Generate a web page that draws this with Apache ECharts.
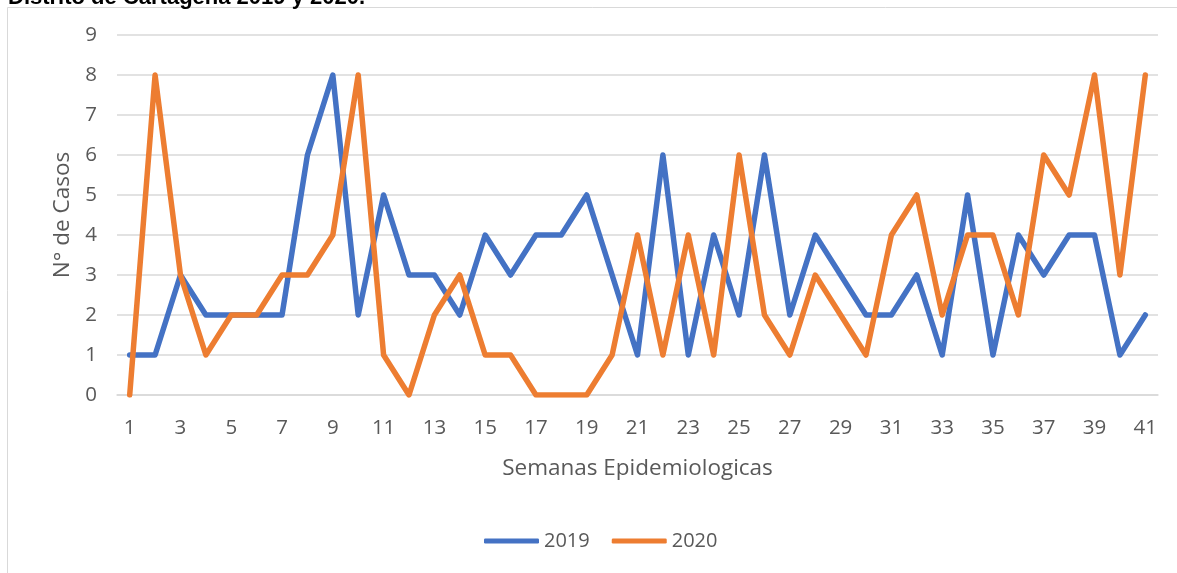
<!DOCTYPE html>
<html>
<head>
<meta charset="utf-8">
<script src="https://cdn.jsdelivr.net/npm/echarts@6/dist/echarts.min.js"></script>
<style>
  html, body { margin: 0; padding: 0; background: #fff; }
  #chart { width: 1177px; height: 573px; }
</style>
</head>
<body>
<div id="chart"></div>
<script>
// semanas epidemiologicas 1..41
const semanas = ['1','2','3','4','5','6','7','8','9','10','11','12','13','14','15','16','17','18','19','20',
  '21','22','23','24','25','26','27','28','29','30','31','32','33','34','35','36','37','38','39','40','41']

const casos2019 = [1, 1, 3, 2, 2, 2, 2, 6, 8, 2, 5, 3, 3, 2, 4, 3, 4, 4, 5, 3,
  1, 6, 1, 4, 2, 6, 2, 4, 3, 2, 2, 3, 1, 5, 1, 4, 3, 4, 4, 1, 2]

const casos2020 = [0, 8, 3, 1, 2, 2, 3, 3, 4, 8, 1, 0, 2, 3, 1, 1, 0, 0, 0, 1,
  4, 1, 4, 1, 6, 2, 1, 3, 2, 1, 4, 5, 2, 4, 4, 2, 6, 5, 8, 3, 8]

const fontFam = '"Open Sans", Lato, sans-serif'
const gris = '#595959'

const chart = echarts.init(document.getElementById('chart'), null, { renderer: 'canvas' })

chart.setOption({
  backgroundColor: '#fff',
  animation: false,
  graphic: [
    {
      type: 'rect',
      shape: { x: 7.5, y: 7.5, width: 1300, height: 700 },
      style: { fill: 'none', stroke: '#d9d9d9', lineWidth: 1 },
      silent: true,
    },
    {
      type: 'text',
      left: 8,
      top: -13,
      style: {
        text: 'Distrito de Cartagena 2019 y 2020.',
        fill: '#000',
        font: 'bold 22px "Liberation Sans", Arial, sans-serif',
      },
    },
  ],
  grid: { left: 117, right: 19, top: 35, bottom: 178 },
  legend: {
    bottom: 17,
    left: 479,
    icon: 'roundRect',
    itemWidth: 55,
    itemHeight: 5,
    itemGap: 22,
    textStyle: { color: gris, fontSize: 20, fontFamily: fontFam },
    data: ['2019', '2020'],
  },
  xAxis: {
    type: 'category',
    data: semanas,
    boundaryGap: true,
    name: 'Semanas Epidemiologicas',
    nameLocation: 'middle',
    nameGap: 62,
    nameTextStyle: { color: gris, fontSize: 22.5, fontFamily: fontFam },
    axisLine: { lineStyle: { color: '#d9d9d9', width: 1.5 } },
    axisTick: { show: false },
    axisLabel: { interval: 1, color: gris, fontSize: 20.5, fontFamily: fontFam, margin: 23 },
  },
  yAxis: {
    type: 'value',
    min: 0,
    max: 9,
    interval: 1,
    name: 'N° de Casos',
    nameLocation: 'middle',
    nameGap: 43,
    nameTextStyle: { color: gris, fontSize: 22.5, fontFamily: fontFam },
    axisLine: { show: false },
    axisTick: { show: false },
    axisLabel: { color: gris, fontSize: 20.5, fontFamily: fontFam, margin: 20 },
    splitLine: { lineStyle: { color: '#d9d9d9', width: 1.5 } },
  },
  series: [
    {
      name: '2019',
      type: 'line',
      data: casos2019,
      symbol: 'none',
      color: '#4472C4',
      lineStyle: { width: 5.5, color: '#4472C4', cap: 'round', join: 'round' },
    },
    {
      name: '2020',
      type: 'line',
      data: casos2020,
      symbol: 'none',
      color: '#ED7D31',
      lineStyle: { width: 5.5, color: '#ED7D31', cap: 'round', join: 'round' },
    },
  ],
})
</script>
</body>
</html>
